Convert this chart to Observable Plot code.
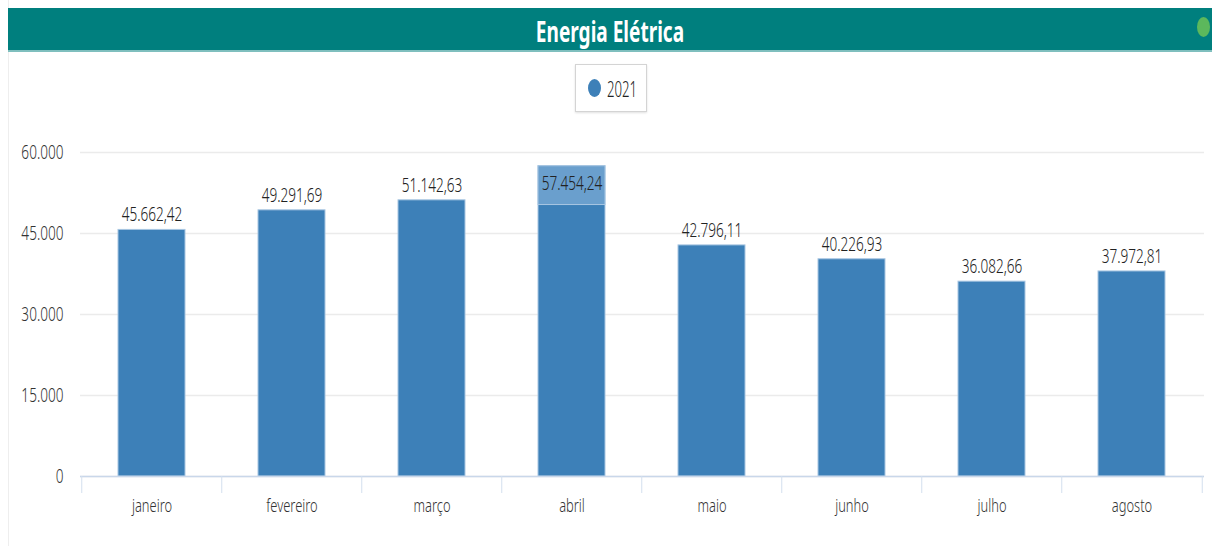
<!DOCTYPE html>
<html>
<head>
<meta charset="utf-8">
<script src="https://cdn.jsdelivr.net/npm/d3@7"></script>
<script src="https://cdn.jsdelivr.net/npm/@observablehq/plot@0.6"></script>
<style>
  html, body { margin: 0; padding: 0; background: #fff; width: 1212px; height: 546px; overflow: hidden; }
  #card { position: absolute; left: 8px; top: 0; width: 1204px; height: 546px; border-left: 1px solid #eee; }
  #title { position: absolute; left: 8px; top: 8px; width: 1204px; height: 44px; background: #007f7e;
    color: #fff; font-family: "Noto Sans", sans-serif; font-weight: bold;
    font-size: 28px; line-height: 46px; text-align: center; border-bottom: 2px solid #7fbfbe; box-sizing: border-box; }
  #title span { display: inline-block; transform: scaleX(0.68); }
  #dot { position: absolute; left: 1197px; top: 17px; width: 13px; height: 20px; border-radius: 50%; background: #5cb85c; }
  #legend { position: absolute; left: 575px; top: 64px; width: 72px; height: 48px; box-sizing: border-box;
    border: 1px solid #d4d4d4; box-shadow: 0 1px 2px rgba(0,0,0,0.12); display: flex; align-items: center; justify-content: center;
    font-family: "Noto Sans", sans-serif; font-size: 22px; color: #222; }
  #legend span.sw { display: inline-block; width: 13px; height: 18px; border-radius: 50%; background: #3d80b8; margin-right: 6px; }
  #legend span.tx { display: inline-block; width: 27px; }
  #legend span.tx b { display: inline-block; font-weight: 300; transform: scaleX(0.6); transform-origin: 0 50%; }
  #chart { position: absolute; left: 0; top: 120px; }
</style>
</head>
<body>
<div id="card"></div>
<div id="title"><span>Energia Elétrica</span></div>
<div id="dot"></div>
<div id="legend"><span class="sw"></span><span class="tx"><b>2021</b></span></div>
<div id="chart"></div>
<script>
const months = ["janeiro", "fevereiro", "março", "abril", "maio", "junho", "julho", "agosto"];
const values2021 = [45662.42, 49291.69, 51142.63, 57454.24, 42796.11, 40226.93, 36082.66, 37972.81];
const yTicks = [0, 15000, 30000, 45000, 60000];
const highlighted = "abril";

const data = months.map((m, i) => ({ month: m, value: values2021[i] }));

function groupThousands(intStr) {
  return intStr.replace(/\B(?=(\d{3})+(?!\d))/g, ".");
}
function fmtValue(v) {
  const [i, d] = v.toFixed(2).split(".");
  return groupThousands(i) + "," + d;
}
function fmtTick(v) {
  return groupThousands(String(Math.round(v)));
}

const W = 1212, H = 426, ML = 80, MR = 8, MT = 32, MB = 70;
const step = (W - ML - MR) / months.length;
const font = '"Noto Sans", sans-serif';

const plot = Plot.plot({
  width: W, height: H,
  marginLeft: ML, marginRight: MR, marginTop: MT, marginBottom: MB,
  style: { fontFamily: font, fontSize: "20px", fontWeight: 300, color: "#222", background: "transparent" },
  x: { domain: months, paddingInner: 0.52, paddingOuter: 0.26, label: null, axis: null },
  y: { domain: [0, 60000], ticks: yTicks, label: null, axis: null },
  marks: [
    Plot.gridY(yTicks, { stroke: "#ebebeb", strokeOpacity: 1, strokeWidth: 1.5 }),
    Plot.axisY(yTicks, { tickSize: 0, tickPadding: 17, tickFormat: fmtTick, fontSize: 20, fill: "#333" }),
    Plot.barY(data, { x: "month", y: "value", fill: "#3d80b8", stroke: "#a8c6e2", strokeWidth: 1 }),
    Plot.barY(data.filter(d => d.month === highlighted), {
      x: "month", y1: d => d.value * 0.875, y2: "value", fill: "#6a9fcd", stroke: "#a8c6e2", strokeWidth: 1
    }),
    Plot.ruleY([0], { stroke: "#c9d7ea", strokeWidth: 1.5 }),
    Plot.ruleX(months, { x: d => d, dx: -step / 2, y1: 0, y2: 0, stroke: "#d3dfee", insetBottom: -17 }),
    Plot.ruleX(months.slice(-1), { x: d => d, dx: step / 2, y1: 0, y2: 0, stroke: "#d3dfee", insetBottom: -17 }),
    Plot.text(months, { x: d => d, y: 0, dy: 29, text: d => d, fontSize: 19, fill: "#333", lineAnchor: "middle" }),
    Plot.text(data.filter(d => d.month !== highlighted), {
      x: "month", y: "value", text: d => fmtValue(d.value), dy: -15,
      lineAnchor: "middle", fontSize: 20, fill: "#222"
    }),
    Plot.text(data.filter(d => d.month === highlighted), {
      x: "month", y: "value", text: d => fmtValue(d.value), dy: 17,
      lineAnchor: "middle", fontSize: 20, fill: "#222"
    })
  ]
});

// condense glyphs horizontally to imitate the narrow font of the original
const SX = 0.68;
plot.querySelectorAll("text").forEach(t => {
  let tr = t.getAttribute("transform");
  if (!tr) {
    const x = +(t.getAttribute("x") || 0), y = +(t.getAttribute("y") || 0);
    t.removeAttribute("x"); t.removeAttribute("y");
    tr = `translate(${x},${y})`;
  }
  t.setAttribute("transform", tr + ` scale(${SX},1)`);
});
document.getElementById("chart").appendChild(plot);
</script>
</body>
</html>
